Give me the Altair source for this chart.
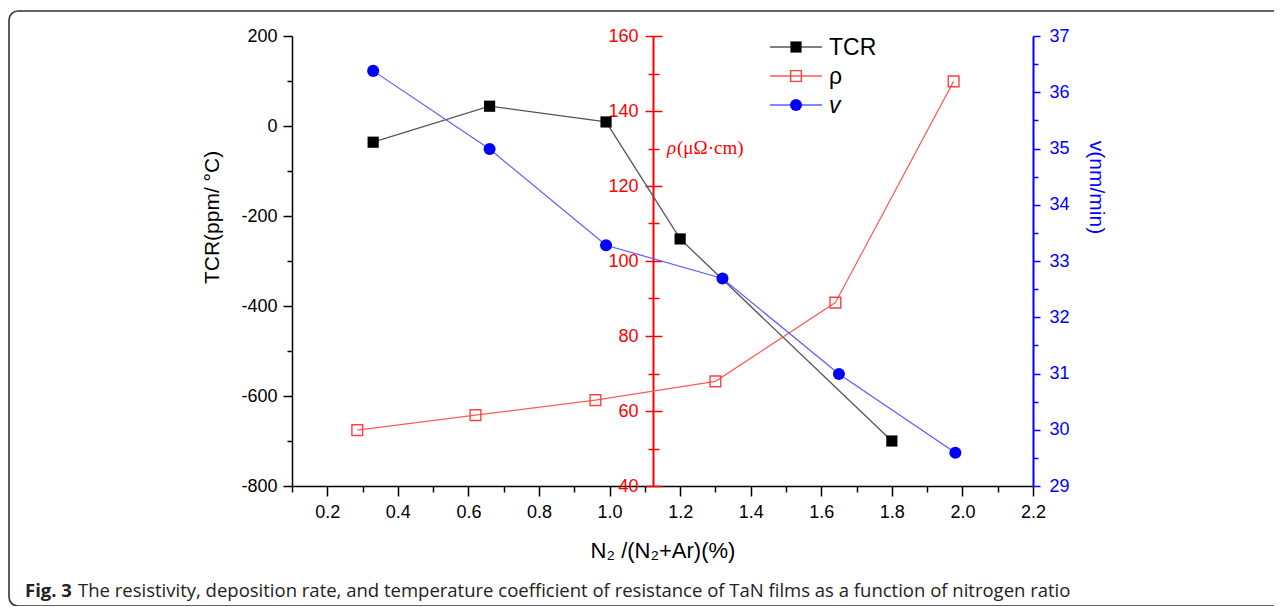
import altair as alt
import pandas as pd

# ---------------- data ----------------
x_tcr = [0.33, 0.66, 0.99, 1.20, 1.80]
tcr = [-36, 44, 9, -251, -700]

x_rho = [0.285, 0.62, 0.96, 1.30, 1.64, 1.975]
rho = [54.9, 58.9, 62.9, 67.9, 88.9, 147.9]

x_v = [0.33, 0.66, 0.99, 1.32, 1.65, 1.98]
v = [36.38, 34.99, 33.28, 32.69, 30.99, 29.59]

x_ticks = [round(0.1 * i, 1) for i in range(1, 23)]
tcr_ticks = list(range(-800, 201, 100))
rho_ticks = list(range(40, 161, 10))
v_ticks = [29 + 0.5 * i for i in range(17)]

legend_names = ["TCR", "ρ", "v"]
x_title = "N₂ /(N₂+Ar)(%)"
tcr_title = "TCR(ppm/ °C)"
v_title = "v(nm/min)"
rho_title_sym = "ρ"
rho_title_unit = "(μΩ·cm)"
caption_bold = "Fig. 3"
caption_text = ("The resistivity, deposition rate, and temperature coefficient of "
                "resistance of TaN films as a function of nitrogen ratio")

df_tcr = pd.DataFrame({"x": x_tcr, "tcr": tcr})
df_rho = pd.DataFrame({"x": x_rho, "rho": rho})
df_v = pd.DataFrame({"x": x_v, "v": v})

W, H = 741, 450
FONT = "Liberation Sans"
RED = "#ff0000"
BLUE = "#0000ff"
LBL = 18

x_axis = alt.Axis(
    values=x_ticks,
    labelExpr="round(datum.value*10) % 2 == 0 ? format(datum.value, '.1f') : ''",
    tickSize={"condition": {"test": "round(datum.value*10) % 2 == 0", "value": 10}, "value": 6},
    tickColor="black", tickWidth=1.5, domainColor="black", domainWidth=1.5,
    labelFont=FONT, labelFontSize=LBL, labelColor="black", labelPadding=7,
    labelFlush=False, labelOverlap=False,
    grid=False, title=x_title, titleFont=FONT, titleFontSize=22,
    titleFontWeight="normal", titleColor="black", titleY=64, titleBaseline="middle",
)
X = alt.X("x:Q", scale=alt.Scale(domain=[0.1, 2.2], nice=False, zero=False), axis=x_axis)

# ---- TCR (left axis) ----
tcr_axis = alt.Axis(
    orient="left", values=tcr_ticks,
    labelExpr="abs(datum.value) % 200 == 0 ? replace(format(datum.value, 'd'), '−', '-') : ''",
    tickSize={"condition": {"test": "abs(datum.value) % 200 == 0", "value": 9}, "value": 5},
    tickColor="black", tickWidth=1.5, domainColor="black", domainWidth=1.5,
    labelFont=FONT, labelFontSize=LBL, labelColor="black", labelPadding=6,
    labelFlush=False, labelOverlap=False, grid=False,
    title=tcr_title, titleFont=FONT, titleFontSize=21, titleFontWeight="normal",
    titleColor="black", titleX=-80, titleY=181, titleAngle=270,
    titleAlign="center", titleBaseline="middle",
)
tcr_base = alt.Chart(df_tcr).encode(
    x=X,
    y=alt.Y("tcr:Q", scale=alt.Scale(domain=[-800, 200], nice=False, zero=False), axis=tcr_axis),
)
tcr_layer = alt.layer(
    tcr_base.mark_line(color="#555555", strokeWidth=1.3),
    tcr_base.mark_point(shape="square", filled=True, size=125, color="black", opacity=1),
)

# ---- rho (middle red axis) ----
rho_scale = alt.Scale(domain=[40, 160], nice=False, zero=False)
rho_axis = alt.Axis(
    orient="left", offset=-361, values=rho_ticks,
    labelExpr="datum.value % 20 == 0 ? format(datum.value, 'd') : ''",
    tickSize={"condition": {"test": "datum.value % 20 == 0", "value": 8}, "value": 5},
    tickColor=RED, tickWidth=1.5, domainColor=RED, domainWidth=2,
    labelFont=FONT, labelFontSize=LBL, labelColor=RED, labelPadding=7,
    labelFlush=False, labelOverlap=False, grid=False, title=None,
)
rho_base = alt.Chart(df_rho).encode(x=X, y=alt.Y("rho:Q", scale=rho_scale, axis=rho_axis))
rho_layer = alt.layer(
    rho_base.mark_line(color="#ff5a5a", strokeWidth=1.2),
    rho_base.mark_point(shape="square", filled=False, size=115, color="#ff4040",
                        strokeWidth=1.4, opacity=1),
)
rho_axis2 = alt.Axis(
    orient="right", offset=-380, values=rho_ticks, labels=False, domain=False,
    tickSize={"condition": {"test": "datum.value % 20 == 0", "value": 9}, "value": 6},
    tickColor=RED, tickWidth=1.5, grid=False, title=None,
)
rho_tick_layer = alt.Chart(df_rho).mark_point(opacity=0).encode(
    x=X, y=alt.Y("rho2:Q", scale=rho_scale, axis=rho_axis2)
).transform_calculate(rho2="datum.rho")

# ---- v (right blue axis) ----
v_axis = alt.Axis(
    orient="right", values=v_ticks,
    labelExpr="datum.value % 1 == 0 ? format(datum.value, 'd') : ''",
    tickSize={"condition": {"test": "datum.value % 1 == 0", "value": 7}, "value": 5},
    tickColor=BLUE, tickWidth=1.5, domainColor=BLUE, domainWidth=2,
    labelFont=FONT, labelFontSize=LBL, labelColor=BLUE, labelPadding=9,
    labelFlush=False, labelOverlap=False, grid=False,
    title=v_title, titleFont=FONT, titleFontSize=21, titleFontWeight="normal",
    titleColor=BLUE, titleX=62, titleY=151, titleAngle=90,
    titleAlign="center", titleBaseline="middle",
)
v_base = alt.Chart(df_v).encode(
    x=X, y=alt.Y("v:Q", scale=alt.Scale(domain=[29, 37], nice=False, zero=False), axis=v_axis)
)
v_layer = alt.layer(
    v_base.mark_line(color="#5b5bff", strokeWidth=1.2),
    v_base.mark_circle(size=145, color=BLUE, opacity=1),
)

# ---- legend (drawn by hand) ----
leg_line_colors = ["#555555", "#ff5a5a", "#5b5bff"]
leg_marks = [
    dict(shape="square", filled=True, size=125, color="black", opacity=1),
    dict(shape="square", filled=False, size=115, color="#ff4040", strokeWidth=1.4, opacity=1),
    dict(shape="circle", filled=True, size=145, color=BLUE, opacity=1),
]
leg_rows = [11, 40, 69]
legend_layers = []
for i, name in enumerate(legend_names):
    d = alt.Chart(pd.DataFrame({"name": [name]}))
    yy = alt.value(leg_rows[i])
    legend_layers.append(
        d.mark_rule(color=leg_line_colors[i], strokeWidth=1.3).encode(
            x=alt.value(478), x2=alt.value(530), y=yy)
    )
    legend_layers.append(d.mark_point(**leg_marks[i]).encode(x=alt.value(504), y=yy))
    legend_layers.append(
        d.mark_text(align="left", baseline="middle", font=FONT, fontSize=23,
                    fontStyle="italic" if name == "v" else "normal", color="black").encode(
            x=alt.value(537), y=alt.value(leg_rows[i] + 1), text="name:N")
    )

# ---- rho title next to middle axis ----
rho_t1 = alt.Chart(pd.DataFrame({"t": [rho_title_sym]})).mark_text(
    align="left", baseline="middle", font="Liberation Serif", fontSize=19,
    fontStyle="italic", color=RED).encode(x=alt.value(375), y=alt.value(112), text="t:N")
rho_t2 = alt.Chart(pd.DataFrame({"t": [rho_title_unit]})).mark_text(
    align="left", baseline="middle", font="Liberation Serif", fontSize=19,
    color=RED).encode(x=alt.value(385), y=alt.value(112), text="t:N")

# ---- caption and frame ----
cap1 = alt.Chart(pd.DataFrame({"t": [caption_bold]})).mark_text(
    align="left", baseline="middle", font="Open Sans", fontSize=18.5, fontWeight="bold",
    color="#222222").encode(x=alt.value(-267), y=alt.value(555), text="t:N")
cap2 = alt.Chart(pd.DataFrame({"t": [caption_text]})).mark_text(
    align="left", baseline="middle", font="Open Sans", fontSize=18.5,
    color="#222222").encode(x=alt.value(-214), y=alt.value(555), text="t:N")
frame = alt.Chart(pd.DataFrame({"f": [0]})).mark_rect(
    fill=None, stroke="#333333", strokeWidth=1.6, cornerRadius=9).encode(
    x=alt.value(-283), x2=alt.value(1100), y=alt.value(-25), y2=alt.value(570))

chart = alt.layer(
    frame, tcr_layer, rho_layer, rho_tick_layer, v_layer,
    *legend_layers, rho_t1, rho_t2, cap1, cap2,
).resolve_scale(y="independent").resolve_axis(y="independent").properties(
    width=W, height=H,
    autosize=alt.AutoSizeParams(type="none"),
    padding={"left": 284, "top": 28, "right": 241, "bottom": 120},
    background="white",
).configure_view(stroke=None)

chart.save("out.html", embed_options={"renderer": "svg", "actions": False})
